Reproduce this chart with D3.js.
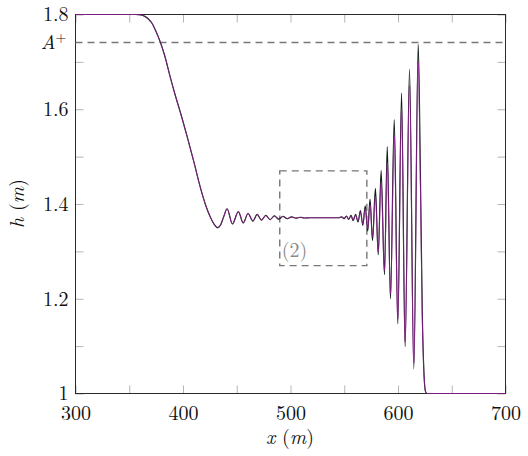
<!DOCTYPE html>
<html>
<head>
<meta charset="utf-8">
<script src="https://cdn.jsdelivr.net/npm/d3@7"></script>
<style>
  body { margin: 0; background: #fff; }
  svg { display: block; }
  text { font-family: "Latin Modern Roman", "CMU Serif", "Liberation Serif", "DejaVu Serif", serif; }
</style>
</head>
<body>
<svg id="chart" width="528" height="456"></svg>
<script>
// free surface profile (x in m, h in m)
const xs = [
  300, 340, 356, 361, 364.5, 368, 371, 374.5, 379, 383, 388, 393, 398, 404, 410, 416, 421, 425.5, 429, 432, 435, 438,
  441, 446, 451.5, 456, 460.5, 465, 469, 473, 477, 481, 485, 489, 493, 497, 501, 505, 509, 513, 518, 540, 545,
  547.5, 549.8, 552, 554.2, 556.3, 558.3, 560.5, 562.8, 565, 567.3, 569.5, 571.8, 574, 576.3, 579, 581.6,
  584.3, 587.4, 590, 593, 596.5, 599.8, 603.3, 606.6, 610.7, 614.7, 618.8, 620.8, 622.6, 624.2, 625.5, 627, 700
];
const hBlack = [
  1.8, 1.8, 1.8, 1.799, 1.796, 1.79, 1.782, 1.766, 1.741, 1.713, 1.669, 1.628, 1.59, 1.541, 1.49, 1.436, 1.398, 1.372, 1.357, 1.35, 1.356, 1.374,
  1.39, 1.358, 1.384, 1.36, 1.38, 1.364, 1.378, 1.366, 1.376, 1.367, 1.375, 1.368, 1.374, 1.369, 1.373, 1.37, 1.372, 1.3705, 1.371, 1.371, 1.371,
  1.373, 1.369, 1.3745, 1.3675, 1.376, 1.365, 1.378, 1.362, 1.386, 1.355, 1.396, 1.343, 1.41, 1.323, 1.433, 1.293,
  1.471, 1.251, 1.521, 1.2, 1.578, 1.147, 1.634, 1.099, 1.685, 1.052, 1.737, 1.47, 1.17, 1.04, 1.005, 1.0, 1.0
];
const hPurple = [
  1.8, 1.8, 1.8, 1.799, 1.796, 1.79, 1.782, 1.766, 1.741, 1.713, 1.669, 1.628, 1.59, 1.541, 1.49, 1.436, 1.398, 1.372, 1.357, 1.35, 1.356, 1.374,
  1.39, 1.358, 1.384, 1.36, 1.38, 1.364, 1.378, 1.366, 1.376, 1.367, 1.375, 1.368, 1.374, 1.369, 1.373, 1.37, 1.372, 1.3705, 1.371, 1.371, 1.371,
  1.3725, 1.3695, 1.374, 1.368, 1.375, 1.366, 1.376, 1.364, 1.382, 1.358, 1.39, 1.348, 1.398, 1.33, 1.415, 1.30,
  1.445, 1.26, 1.487, 1.21, 1.542, 1.158, 1.598, 1.11, 1.65, 1.065, 1.70, 1.44, 1.16, 1.04, 1.005, 1.0, 1.0
];

const xTicks = [300, 350, 400, 450, 500, 550, 600, 650, 700];
const xLabelled = [300, 400, 500, 600, 700];
const yTicks = [1, 1.1, 1.2, 1.3, 1.4, 1.5, 1.6, 1.7, 1.8];
const yLabelled = [1, 1.2, 1.4, 1.6, 1.8];

const aPlus = 1.741;                 // dashed reference level A+
const boxX = [490, 571];             // dashed zoom window (2)
const boxH = [1.27, 1.47];

const svg = d3.select('#chart');
const margin = { top: 14, right: 23, bottom: 63, left: 75 };
const width = 528 - margin.left - margin.right;
const height = 456 - margin.top - margin.bottom;

const g = svg.append('g').attr('transform', `translate(${margin.left + 0.5},${margin.top + 0.5})`);

const x = d3.scaleLinear().domain([300, 700]).range([0, width]);
const y = d3.scaleLinear().domain([1, 1.8]).range([height, 0]);

const fmt = d3.format('~g');
const tickGray = '#b5b5b5';

function styleAxis(sel) {
  sel.select('.domain').remove();
  sel.selectAll('.tick line').attr('stroke', tickGray);
  sel.selectAll('.tick text').attr('fill', '#111').style('font-size', '20px');
}

g.append('g')
  .attr('transform', `translate(0,${height})`)
  .call(d3.axisBottom(x).tickValues(xTicks).tickSizeInner(-8).tickSizeOuter(0).tickPadding(12)
    .tickFormat(d => xLabelled.includes(d) ? fmt(d) : ''))
  .call(styleAxis);

g.append('g')
  .call(d3.axisTop(x).tickValues(xTicks).tickSizeInner(-8).tickSizeOuter(0).tickFormat(''))
  .call(styleAxis);

g.append('g')
  .call(d3.axisLeft(y).tickValues(yTicks).tickSizeInner(-8).tickSizeOuter(0).tickPadding(7)
    .tickFormat(d => yLabelled.includes(d) ? fmt(d) : ''))
  .call(styleAxis);

g.append('g')
  .attr('transform', `translate(${width},0)`)
  .call(d3.axisRight(y).tickValues(yTicks).tickSizeInner(-8).tickSizeOuter(0).tickFormat(''))
  .call(styleAxis);

// frame
g.append('rect')
  .attr('width', width).attr('height', height)
  .attr('fill', 'none').attr('stroke', '#2a2a2a').attr('stroke-width', 1);

// A+ level
g.append('line')
  .attr('x1', x(300)).attr('x2', x(700))
  .attr('y1', y(aPlus)).attr('y2', y(aPlus))
  .attr('stroke', '#777').attr('stroke-width', 1.4).attr('stroke-dasharray', '7,5');

// zoom window
g.append('rect')
  .attr('x', x(boxX[0])).attr('y', y(boxH[1]))
  .attr('width', x(boxX[1]) - x(boxX[0])).attr('height', y(boxH[0]) - y(boxH[1]))
  .attr('fill', 'none').attr('stroke', '#777').attr('stroke-width', 1.4).attr('stroke-dasharray', '7,5');

g.append('text')
  .attr('x', x(boxX[0]) + 2).attr('y', y(boxH[0]) - 9)
  .attr('fill', '#888').style('font-size', '20px')
  .text('(2)');

const line = hs => d3.line()
  .x((d, i) => x(xs[i]))
  .y(d => y(d))
  .curve(d3.curveMonotoneX)(hs);

g.append('path')
  .attr('d', line(hBlack))
  .attr('fill', 'none').attr('stroke', '#0c1f14').attr('stroke-width', 1.2);

g.append('path')
  .attr('d', line(hPurple))
  .attr('fill', 'none').attr('stroke', '#a41fa4').attr('stroke-width', 1).attr('stroke-opacity', 0.72);

// labels
const aLab = g.append('text')
  .attr('x', -9).attr('y', y(aPlus) + 7)
  .attr('text-anchor', 'end').attr('fill', '#111').style('font-size', '20px');
aLab.append('tspan').style('font-style', 'italic').text('A');
aLab.append('tspan').attr('dy', -7).style('font-size', '14px').text('+');

const xLab = svg.append('text')
  .attr('x', margin.left + width / 2).attr('y', 444)
  .attr('text-anchor', 'middle').attr('fill', '#111').style('font-size', '20px');
xLab.append('tspan').style('font-style', 'italic').text('x');
xLab.append('tspan').text(' (');
xLab.append('tspan').style('font-style', 'italic').text('m');
xLab.append('tspan').text(')');

const yLab = svg.append('text')
  .attr('transform', `translate(24,${margin.top + height / 2}) rotate(-90)`)
  .attr('text-anchor', 'middle').attr('fill', '#111').style('font-size', '20px');
yLab.append('tspan').style('font-style', 'italic').text('h');
yLab.append('tspan').text(' (');
yLab.append('tspan').style('font-style', 'italic').text('m');
yLab.append('tspan').text(')');
</script>
</body>
</html>
